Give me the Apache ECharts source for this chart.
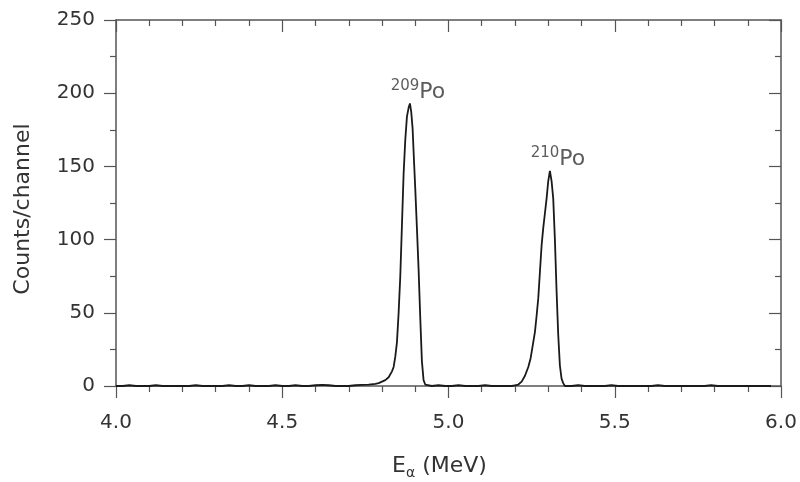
<!DOCTYPE html>
<html>
<head>
<meta charset="utf-8">
<script src="https://cdn.jsdelivr.net/npm/echarts@6/dist/echarts.min.js"></script>
<style>html,body{margin:0;padding:0;background:#fff;}#c{width:800px;height:482px;}</style>
</head>
<body>
<div id="c"></div>
<script>
// Energy (MeV) of each channel point and counts per channel
const energies = [4.00,4.02,4.04,4.06,4.08,4.10,4.12,4.14,4.16,4.18,4.20,4.22,4.24,4.26,4.28,4.30,4.32,4.34,4.36,4.38,4.40,4.42,4.44,4.46,4.48,4.50,4.52,4.54,4.56,4.58,4.60,4.62,4.64,4.66,4.68,4.70,4.72,4.74,4.76,4.78,4.79,4.80,4.81,4.82,4.83,4.835,4.84,4.845,4.85,4.855,4.86,4.865,4.87,4.875,4.88,4.884,4.888,4.892,4.896,4.90,4.905,4.91,4.915,4.92,4.925,4.93,4.935,4.95,4.97,4.99,5.01,5.03,5.05,5.07,5.09,5.11,5.13,5.15,5.17,5.19,5.20,5.21,5.22,5.23,5.24,5.247,5.255,5.26,5.265,5.27,5.275,5.28,5.285,5.29,5.295,5.30,5.305,5.31,5.315,5.32,5.325,5.33,5.335,5.34,5.345,5.35,5.37,5.39,5.41,5.43,5.45,5.47,5.49,5.51,5.53,5.55,5.57,5.59,5.61,5.63,5.65,5.67,5.69,5.71,5.73,5.75,5.77,5.79,5.81,5.83,5.85,5.87,5.89,5.91,5.93,5.95,5.97,6.00];
const counts   = [0,0,0.5,0,0,0,0.5,0,0,0,0,0,0.5,0,0,0,0,0.5,0,0,0.5,0,0,0,0.5,0,0,0.5,0,0,0.5,0.8,0.5,0,0,0,0.5,0.8,1,1.5,2,3,4,6,10,13,20,30,50,75,110,145,168,184,190,193,187,176,155,135,108,80,47,17,4,1,0,0,0.5,0,0,0.5,0,0,0,0.5,0,0,0,0,0.5,1,3,7,13,19,30,37,48,60,78,96,108,118,128,140,147,140,128,100,65,35,14,5,2,0,0,0.5,0,0,0,0,0.5,0,0,0,0,0,0,0.5,0,0,0,0,0,0,0,0.5,0,0,0,0,0,0,0,0,0];
// Peak annotations
const peakLabels = ['209', '210'];
const peakE = [4.884, 5.305];
const peakC = [193, 147];
const xTicks = {min: 4.0, max: 6.0, interval: 0.5};
const yTicks = {min: 0, max: 250, interval: 50};

const font = 'DejaVu Sans';
const axisColor = '#555';
const textColor = '#333';

const chart = echarts.init(document.getElementById('c'), null, {renderer: 'canvas'});
const baseX = {
  type: 'value', min: xTicks.min, max: xTicks.max, interval: xTicks.interval,
  axisLine: {show: true, onZero: false, lineStyle: {color: axisColor, width: 1.5}},
  splitLine: {show: false},
  minorTick: {show: true, splitNumber: 5, length: 6, lineStyle: {color: axisColor, width: 1.2}},
  minorSplitLine: {show: false}
};
const baseY = {
  type: 'value', min: yTicks.min, max: yTicks.max, interval: yTicks.interval,
  axisLine: {show: true, onZero: false, lineStyle: {color: axisColor, width: 1.5}},
  splitLine: {show: false},
  minorTick: {show: true, splitNumber: 2, length: 6, lineStyle: {color: axisColor, width: 1.2}},
  minorSplitLine: {show: false}
};
chart.setOption({
  animation: false,
  backgroundColor: '#fff',
  grid: {left: 116, right: 19, top: 20, bottom: 96, containLabel: false, outerBoundsMode: 'none'},
  xAxis: [
    Object.assign({}, baseX, {
      position: 'bottom',
      axisTick: {show: true, inside: false, length: 12, lineStyle: {color: axisColor, width: 1.2}},
      axisLabel: {margin: 27, fontFamily: font, fontSize: 20, color: textColor,
        formatter: v => v.toFixed(1)},
      name: '{e|E}{s|α}{e| (MeV)}',
      nameLocation: 'middle', nameGap: 67,
      nameTextStyle: {fontFamily: font, fontSize: 22, color: textColor, padding: [0, 18, 0, 0],
        rich: {e: {fontFamily: font, fontSize: 22, color: textColor},
               s: {fontFamily: font, fontSize: 14, color: textColor, padding: [13, 0, 0, 0]}}}
    }),
    Object.assign({}, baseX, {
      position: 'top',
      axisTick: {show: true, inside: true, length: 12, lineStyle: {color: axisColor, width: 1.2}},
      minorTick: {show: true, splitNumber: 5, length: 6, lineStyle: {color: axisColor, width: 1.2}},
      axisLabel: {show: false}
    })
  ],
  yAxis: [
    Object.assign({}, baseY, {
      position: 'left',
      axisTick: {show: true, inside: false, length: 12, lineStyle: {color: axisColor, width: 1.2}},
      axisLabel: {margin: 21, fontFamily: font, fontSize: 20, color: textColor},
      name: 'Counts/channel', nameLocation: 'middle', nameGap: 82,
      nameTextStyle: {fontFamily: font, fontSize: 22, color: textColor, padding: [0, 12, 0, 0]}
    }),
    Object.assign({}, baseY, {
      position: 'right',
      axisTick: {show: true, inside: true, length: 12, lineStyle: {color: axisColor, width: 1.2}},
      axisLabel: {show: false}
    })
  ],
  series: [
    {
      type: 'line', xAxisIndex: 0, yAxisIndex: 0,
      data: energies.map((e, i) => [e, counts[i]]),
      showSymbol: false, symbol: 'none',
      lineStyle: {color: '#1a1a1a', width: 1.8},
      z: 3
    },
    {
      type: 'scatter', xAxisIndex: 0, yAxisIndex: 0,
      symbolSize: 0,
      data: peakE.map((e, i) => ({value: [e, peakC[i]], name: peakLabels[i]})),
      label: {
        show: true, position: 'top', distance: -2, offset: [8, 0],
        formatter: p => '{sup|' + p.name + '}{po|Po}',
        rich: {
          sup: {fontFamily: font, fontSize: 15, color: textColor, padding: [0, 0, 12, 0]},
          po: {fontFamily: font, fontSize: 22, color: textColor}
        }
      },
      silent: true
    }
  ]
});
</script>
</body>
</html>
